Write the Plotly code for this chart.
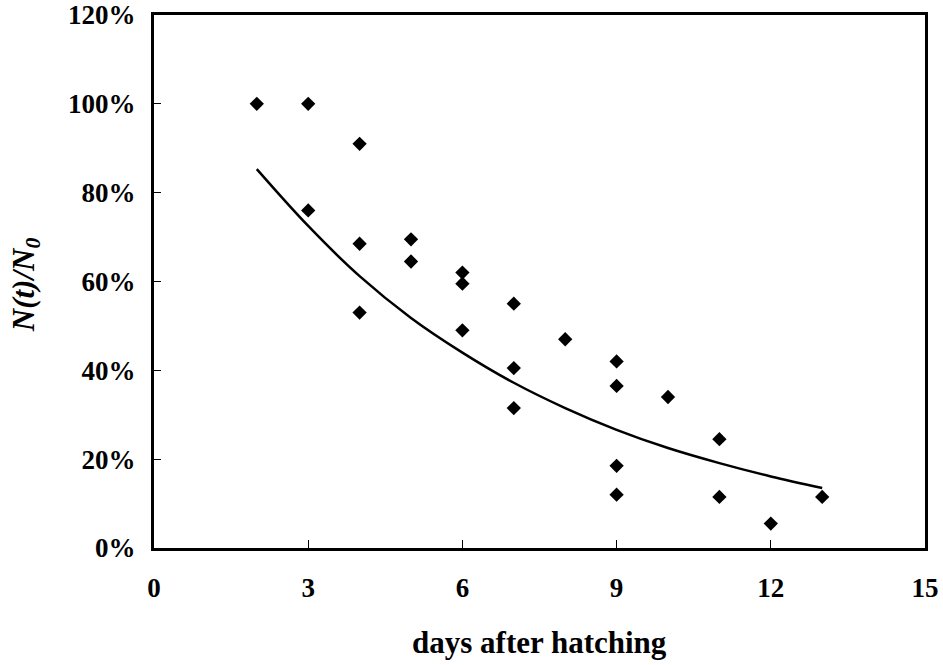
import plotly.graph_objects as go

# Observed survival data (days after hatching, fraction remaining)
obs_days = [2, 3, 3, 4, 4, 4, 5, 5, 6, 6, 6, 7, 7, 7, 8, 9, 9, 9, 9, 10, 11, 11, 12, 13]
obs_frac = [1.00, 1.00, 0.76, 0.91, 0.685, 0.53, 0.695, 0.645, 0.62, 0.595, 0.49,
            0.55, 0.405, 0.315, 0.47, 0.42, 0.365, 0.185, 0.12, 0.34, 0.245, 0.115,
            0.055, 0.115]

# Fitted trend curve
fit_days = [2, 3, 4, 5, 6, 7, 8, 9, 10, 11, 12, 13]
fit_frac = [0.853, 0.725, 0.612, 0.518, 0.44, 0.372, 0.315, 0.266, 0.225, 0.191, 0.161, 0.135]

x_ticks = [0, 3, 6, 9, 12, 15]
y_ticks = [0, 0.2, 0.4, 0.6, 0.8, 1.0, 1.2]
y_ticktext = ["0%", "20%", "40%", "60%", "80%", "100%", "120%"]

FONT = "Liberation Serif"

fig = go.Figure()
fig.add_trace(go.Scatter(
    x=fit_days, y=fit_frac, mode="lines",
    line=dict(color="black", width=2.5, shape="spline"),
    showlegend=False, hoverinfo="skip"))
fig.add_trace(go.Scatter(
    x=obs_days, y=obs_frac, mode="markers",
    marker=dict(symbol="diamond", size=11, color="black"),
    showlegend=False))

fig.update_layout(
    width=943, height=665,
    margin=dict(l=154, r=18, t=15, b=117),
    paper_bgcolor="white", plot_bgcolor="white",
    xaxis=dict(
        range=[0, 15], tickvals=x_ticks, ticktext=[str(v) for v in x_ticks],
        showgrid=False, zeroline=False, automargin=False,
        showline=True, linecolor="black", linewidth=3, mirror=True,
        ticks="inside", ticklen=8, tickwidth=1, tickcolor="black",
        tickfont=dict(family=FONT, size=27, color="black", weight="bold"),
        ticklabelstandoff=14,
    ),
    yaxis=dict(
        range=[0, 1.2], tickvals=y_ticks, ticktext=y_ticktext,
        showgrid=False, zeroline=False, automargin=False,
        showline=True, linecolor="black", linewidth=3, mirror=True,
        ticks="inside", ticklen=7, tickwidth=1, tickcolor="black",
        tickfont=dict(family=FONT, size=27, color="black", weight="bold"),
        ticklabelstandoff=10,
    ),
    annotations=[
        dict(text="days after hatching", xref="paper", yref="paper",
             x=0.5, y=-0.178, xanchor="center", yanchor="middle",
             showarrow=False,
             font=dict(family=FONT, size=31, color="black", weight="bold")),
        dict(text="<i>N(t)/N<sub>0</sub></i>", xref="paper", yref="paper",
             x=-0.166, y=0.493, xanchor="center", yanchor="middle",
             textangle=-90, showarrow=False,
             font=dict(family=FONT, size=31, color="black", weight="bold")),
    ],
)

fig.write_html("out.html")
